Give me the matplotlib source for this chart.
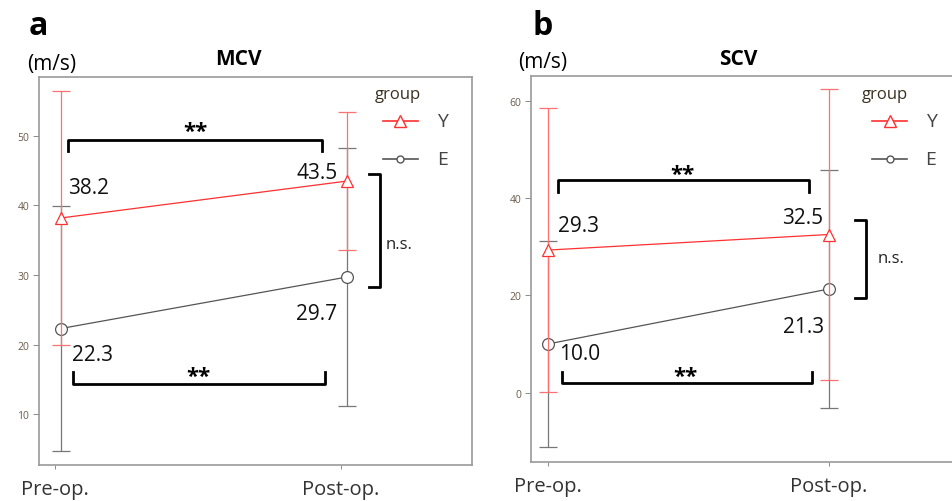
import matplotlib.pyplot as plt

plt.rcParams['font.family'] = ['Open Sans', 'DejaVu Sans']

# data
timepoints = ['Pre-op.', 'Post-op.']
groups = ['Y', 'E']

mcv_mean = {'Y': [38.2, 43.5], 'E': [22.3, 29.7]}
mcv_sd = {'Y': [18.3, 9.9], 'E': [17.6, 18.5]}

scv_mean = {'Y': [29.3, 32.5], 'E': [10.0, 21.3]}
scv_sd = {'Y': [29.2, 29.8], 'E': [21.2, 24.4]}

colors = {'Y': '#ff3030', 'E': '#555555'}
ecolors = {'Y': '#ff7070', 'E': '#777777'}
markers = {'Y': '^', 'E': 'o'}


def draw_panel(ax, means, sds, dx, yticks, ylim, xlim, labels, br, stars, ns_pos, leg):
    xs = [1 + dx, 2 + dx]
    for g in groups:
        ax.errorbar(xs, means[g], yerr=sds[g], color=colors[g], ecolor=ecolors[g],
                    elinewidth=0.9, capsize=6.5, capthick=0.9, lw=0.9,
                    marker=markers[g], ms=9 if g == 'Y' else 8.5, mfc='white',
                    mec=colors[g], mew=0.9, zorder=3 if g == 'Y' else 2)
    # value labels
    for (x, y, ha), g, i in zip(labels, ['Y', 'Y', 'E', 'E'], [0, 1, 0, 1]):
        ax.text(x, y, f'{means[g][i]:.1f}', ha=ha, va='center', fontsize=15,
                color='#111111')
    # significance brackets
    (tx0, tx1, ty, tt), (bx0, bx1, by, bt), (nx0, nx1, ny0, ny1) = br
    ax.plot([tx0, tx0, tx1, tx1], [tt, ty, ty, tt], color='k', lw=2, zorder=4)
    ax.plot([bx0, bx0, bx1, bx1], [bt, by, by, bt], color='k', lw=2, zorder=4)
    ax.plot([nx0, nx1, nx1, nx0], [ny0, ny0, ny1, ny1], color='k', lw=2, zorder=4)
    for sx, sy in stars:
        ax.text(sx, sy, '**', ha='center', va='center', fontsize=16,
                fontweight='bold', zorder=5)
    ax.text(ns_pos[0], ns_pos[1], 'n.s.', ha='left', va='center', fontsize=12,
            color='#222222')

    ax.set_xlim(*xlim)
    ax.set_ylim(*ylim)
    ax.set_xticks([1, 2])
    ax.set_xticklabels(timepoints, fontsize=14.5, color='#333333')
    ax.set_yticks(yticks)
    ax.set_yticklabels([str(t) for t in yticks], fontsize=7.5, color='#6b5b4b')
    ax.tick_params(axis='y', length=4, width=0.6, color='#777777', pad=3)
    ax.tick_params(axis='x', length=3, width=0.6, color='#777777', pad=7)
    for s in ax.spines.values():
        s.set_color('#999999')
        s.set_linewidth(1.2)

    # legend drawn by hand in axes fraction
    gx, gy, lx0, lx1, tx, y1, y2 = leg
    tr = ax.transAxes
    ax.text(gx, gy, 'group', transform=tr, ha='left', va='center', fontsize=12,
            color='#3a3020')
    for g, yy, ms in [('Y', y1, 8), ('E', y2, 5)]:
        ax.plot([lx0, lx1], [yy, yy], transform=tr, color=colors[g], lw=1.2,
                clip_on=False)
        ax.plot([(lx0 + lx1) / 2], [yy], transform=tr, marker=markers[g], ms=ms,
                mfc='white', mec=colors[g], mew=1.0, clip_on=False)
        ax.text(tx, yy, g, transform=tr, ha='center', va='center', fontsize=14,
                color='#444444')


fig = plt.figure(figsize=(9.53, 5.02), dpi=100)

ax_a = fig.add_axes([0.041, 0.072, 0.454, 0.773])
draw_panel(ax_a, mcv_mean, mcv_sd, 0.02, [10, 20, 30, 40, 50], (2.7, 58.5),
           (0.944, 2.458),
           [(1.045, 42.6, 'left'), (1.99, 44.8, 'right'),
            (1.06, 18.6, 'left'), (1.986, 24.5, 'right')],
           [(1.045, 1.934, 49.4, 47.8), (1.063, 1.944, 14.3, 16.0),
            (2.10, 2.136, 44.5, 28.3)],
           [(1.49, 50.6), (1.50, 15.4)], (2.155, 34.4),
           (0.776, 0.956, 0.794, 0.875, 0.933, 0.887, 0.789))

ax_b = fig.add_axes([0.557, 0.078, 0.46, 0.769])
draw_panel(ax_b, scv_mean, scv_sd, 0.0, [0, 20, 40, 60], (-14.2, 65.1),
           (0.94, 2.5),
           [(1.035, 34.4, 'left'), (1.982, 36.0, 'right'),
            (1.042, 8.1, 'left'), (1.982, 13.6, 'right')],
           [(1.035, 1.929, 43.6, 41.3), (1.05, 1.94, 1.95, 4.2),
            (2.095, 2.134, 35.4, 19.4)],
           [(1.48, 44.8), (1.49, 3.4)], (2.175, 27.6),
           (0.756, 0.953, 0.779, 0.858, 0.913, 0.883, 0.785))

# panel letters, titles and units
fig.text(0.030, 0.948, 'a', fontsize=23, fontweight='bold', va='center')
fig.text(0.559, 0.948, 'b', fontsize=23, fontweight='bold', va='center')
fig.text(0.250, 0.882, 'MCV', fontsize=15, fontweight='bold', ha='center', va='center')
fig.text(0.775, 0.882, 'SCV', fontsize=15, fontweight='bold', ha='center', va='center')
fig.text(0.054, 0.872, '(m/s)', fontsize=15, ha='center', va='center')
fig.text(0.569, 0.876, '(m/s)', fontsize=15, ha='center', va='center')

fig.savefig('out.png', dpi=100)
